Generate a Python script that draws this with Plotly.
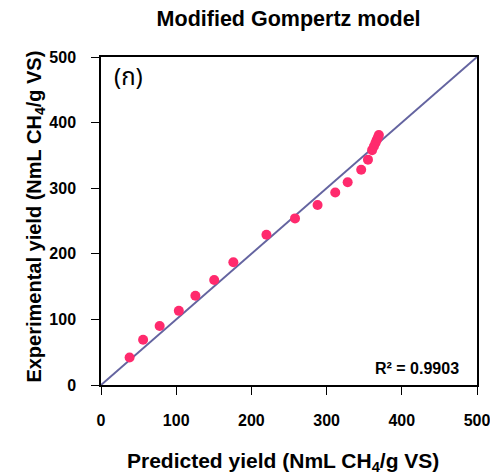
import plotly.graph_objects as go

# Predicted vs experimental methane yield (NmL CH4/g VS)
predicted = [38, 56, 78, 103.5, 125.5, 150.5, 176, 220, 258, 288, 311.5, 328, 346, 355,
             360.5, 363, 365, 366.5, 368, 369.5]
experimental = [42, 69, 90, 113, 136, 160, 187, 229, 254, 274.5, 293.5, 309, 328, 343.5,
                358, 364, 369, 373, 377, 381]

x_ticks = [0, 100, 200, 300, 400, 500]
y_ticks = [0, 100, 200, 300, 400, 500]
axis_range = [0, 500]
r_squared = "R² = 0.9903"

FONT = "Liberation Sans, Arial, sans-serif"

fig = go.Figure()

# 1:1 reference line
fig.add_trace(go.Scatter(
    x=axis_range, y=axis_range, mode="lines",
    line=dict(color="#6464a0", width=2), hoverinfo="skip", showlegend=False,
))

fig.add_trace(go.Scatter(
    x=predicted, y=experimental, mode="markers",
    marker=dict(color="#ff2a6d", size=10, line=dict(width=0)),
    showlegend=False,
))

axis_common = dict(
    range=axis_range, showgrid=False, zeroline=False, automargin=False,
    showline=True, linecolor="black", linewidth=1.5, mirror=True,
    ticks="outside", ticklen=8, tickcolor="black", tickwidth=1,
    ticklabelstandoff=12, ticklabeloverflow="allow",
    tickfont=dict(family=FONT, size=16, color="black", weight="bold"),
)

fig.update_xaxes(tickvals=x_ticks, ticktext=[str(v) for v in x_ticks], **axis_common)
fig.update_yaxes(tickvals=y_ticks, ticktext=[str(v) for v in y_ticks], **axis_common)

# Axis titles
fig.add_annotation(
    x=0.485, y=-0.234, xref="paper", yref="paper", xanchor="center", yanchor="middle",
    text="<b>Predicted yield (NmL CH<sub>4</sub>/g VS)</b>", showarrow=False,
    font=dict(family=FONT, size=21, color="black"),
)
fig.add_annotation(
    x=-0.175, y=0.514, xref="paper", yref="paper", xanchor="center", yanchor="middle",
    text="<b>Experimental yield (NmL CH<sub>4</sub>/g VS)</b>", showarrow=False,
    textangle=-90, font=dict(family=FONT, size=20, color="black"),
)

fig.add_annotation(
    x=0.073, y=0.935, xref="paper", yref="paper", xanchor="center", yanchor="middle",
    text="(ก)", showarrow=False,
    font=dict(family="Noto Sans Thai, DejaVu Sans, sans-serif", size=24, color="black"),
)
fig.add_annotation(
    x=0.957, y=0.049, xref="paper", yref="paper", xanchor="right", yanchor="middle",
    text=f"<b>{r_squared}</b>", showarrow=False,
    font=dict(family=FONT, size=16, color="black"),
)

fig.update_layout(
    width=490, height=475,
    margin=dict(l=101, r=13, t=57, b=90),
    paper_bgcolor="white", plot_bgcolor="white",
    title=dict(text="<b>Modified Gompertz model</b>", x=0.589, xanchor="center",
               y=0.962, yanchor="middle",
               font=dict(family=FONT, size=21.5, color="black")),
)

fig.write_html("out.html")
